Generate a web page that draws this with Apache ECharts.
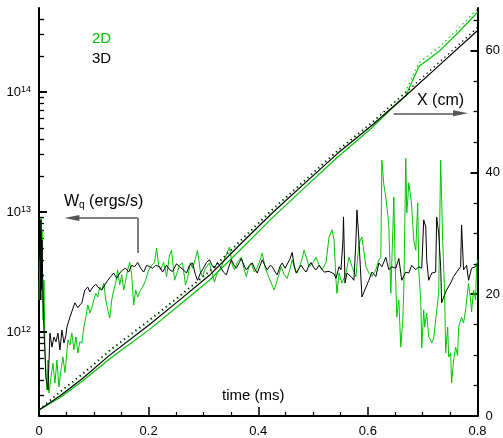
<!DOCTYPE html>
<html><head><meta charset="utf-8">
<script src="https://cdn.jsdelivr.net/npm/echarts@6.0.0/dist/echarts.min.js"></script>
<style>html,body{margin:0;padding:0;background:#fff}#c{width:503px;height:438px}</style>
</head><body><div id="c"></div>
<script>
// ---- W_q (ergs/s), 2D simulation (green) ----
const wqTime2D = [0,0.0018,0.0036,0.0045,0.0055,0.0073,0.0091,0.0109,0.0127,0.0145,0.0164,0.0182,0.0218,0.0255,0.0291,0.0327,0.0364,0.04,0.0436,0.0473,0.0491,0.0527,0.0564,0.06,0.0636,0.0673,0.0709,0.0745,0.0782,0.0818,0.0855,0.0891,0.0927,0.0964,0.1,0.1036,0.1073,0.1109,0.1145,0.1182,0.1218,0.1255,0.1291,0.1327,0.1364,0.14,0.1436,0.1473,0.1509,0.1545,0.1582,0.1618,0.1655,0.1691,0.1727,0.1764,0.18,0.1836,0.1891,0.1945,0.2,0.2055,0.2109,0.2145,0.2182,0.2218,0.2273,0.2327,0.2382,0.2418,0.2473,0.2509,0.2564,0.2618,0.2673,0.2709,0.2764,0.28,0.2855,0.2891,0.2945,0.2982,0.3036,0.3109,0.3164,0.32,0.3255,0.3327,0.34,0.3473,0.3527,0.3564,0.3618,0.3691,0.3745,0.3782,0.3836,0.3873,0.3927,0.3964,0.4018,0.4073,0.4127,0.4164,0.4236,0.4291,0.4345,0.4418,0.4473,0.4527,0.4582,0.4618,0.4673,0.4709,0.4782,0.4836,0.4891,0.4927,0.5,0.5055,0.5109,0.5164,0.5236,0.5291,0.5345,0.5382,0.5418,0.5436,0.5473,0.5527,0.56,0.5655,0.5709,0.5782,0.5836,0.5891,0.5964,0.6018,0.6073,0.6145,0.62,0.6236,0.6255,0.6291,0.6327,0.6364,0.6382,0.6418,0.6455,0.6473,0.6491,0.6527,0.6564,0.66,0.6636,0.6655,0.6691,0.6709,0.6727,0.6745,0.6782,0.68,0.6836,0.6873,0.6909,0.6927,0.6964,0.6982,0.7018,0.7036,0.7073,0.7109,0.7145,0.7164,0.72,0.7236,0.7291,0.7327,0.7364,0.74,0.7418,0.7455,0.7473,0.7509,0.7527,0.7564,0.76,0.7636,0.7655,0.7709,0.7745,0.7782,0.7836,0.7873,0.7891,0.7927,0.7964,0.7982,0.8];
const wq2D = [1.85e12,4.8e12,8.9e12,1.85e12,7.1e12,1.26e12,2.7e12,7.1e11,4.6e11,3.3e11,5.85e11,3.1e11,4.2e11,5.5e11,3.76e11,5.85e11,3.5e11,4.8e11,6.2e11,4.6e11,5.5e11,8.6e11,7.8e11,9.8e11,7.1e11,9.1e11,6.7e11,8.3e11,8.1e11,1.1e12,1.33e12,1.68e12,1.44e12,1.6e12,1.85e12,2.1e12,1.96e12,2.37e12,2.24e12,2.56e12,1.85e12,1.53e12,1.31e12,1.85e12,2.24e12,2.56e12,3.3e12,2.47e12,3.0e12,2.24e12,2.7e12,3.3e12,3.8e12,3.0e12,1.68e12,2.24e12,1.96e12,2.16e12,2.37e12,2.7e12,3.3e12,3.6e12,3.8e12,5.0e12,3.6e12,3.3e12,3.8e12,2.9e12,4.4e12,4.8e12,2.7e12,2.6e12,3.6e12,3.76e12,2.47e12,2.8e12,3.8e12,3.4e12,4.1e12,4.8e12,3.16e12,2.9e12,3.4e12,3.76e12,3.0e12,2.6e12,3.16e12,3.5e12,4.2e12,5.1e12,3.6e12,3.3e12,3.8e12,4.2e12,3.3e12,2.9e12,3.6e12,3.76e12,3.16e12,3.3e12,3.8e12,4.55e12,3.4e12,3.1e12,2.56e12,2.24e12,2.7e12,3.5e12,3.0e12,2.8e12,3.4e12,4.0e12,3.3e12,3.1e12,3.8e12,4.8e12,4.0e12,3.5e12,3.8e12,4.2e12,3.6e12,3.3e12,3.8e12,6.2e12,7.1e12,5.85e12,2.7e12,2.1e12,3.1e12,2.56e12,3.1e12,4.2e12,3.5e12,2.9e12,5.5e12,6.2e12,3.5e12,3.1e12,2.9e12,3.3e12,4.0e12,4.2e12,2.7e13,1.68e13,1.33e13,9.4e12,7.5e12,2.1e12,7.1e12,1.33e13,4.8e12,1.33e12,1.85e12,7.5e11,1.26e12,2.24e12,2.8e13,9.8e12,1.26e13,1.75e13,1.33e13,1.1e13,5.85e12,4.8e12,1.19e13,3.3e12,1.85e12,7.4e11,1.53e12,1.1e12,1.44e12,9.1e11,8.6e11,8.1e11,8.9e11,1.26e12,2.1e12,2.7e13,5.85e12,2.1e12,6.7e11,1.1e12,6.2e11,6.7e11,3.76e11,5.85e11,7.5e11,6.4e11,1.1e12,1.33e12,1.19e12,1.53e12,2.56e12,1.85e12,1.47e12,2.24e12,1.85e12,3.5e12,4.0e12];

// ---- W_q (ergs/s), 3D simulation (black) ----
const wqTime3D = [0,0.0018,0.0027,0.0036,0.0045,0.0055,0.0073,0.0091,0.0127,0.0164,0.02,0.0236,0.0273,0.0309,0.0345,0.0382,0.0418,0.0455,0.0491,0.0509,0.0564,0.06,0.0655,0.0709,0.0745,0.0782,0.0836,0.0891,0.0927,0.0982,0.1036,0.1091,0.1145,0.12,0.1255,0.1309,0.1364,0.1418,0.1473,0.1527,0.1582,0.1636,0.1691,0.1745,0.18,0.1855,0.1909,0.1964,0.2018,0.2073,0.2127,0.22,0.2255,0.2327,0.2382,0.2436,0.2509,0.2564,0.2636,0.2691,0.2745,0.28,0.2855,0.2891,0.2945,0.2982,0.3055,0.3109,0.3164,0.32,0.3255,0.3291,0.3364,0.3418,0.3473,0.3509,0.3564,0.36,0.3655,0.3691,0.3745,0.3782,0.3836,0.3891,0.3945,0.3982,0.4036,0.4073,0.4127,0.4164,0.4218,0.4255,0.4309,0.4345,0.44,0.4436,0.4491,0.4527,0.4582,0.4618,0.4655,0.4691,0.4745,0.4782,0.4836,0.4873,0.4927,0.4964,0.5018,0.5055,0.5109,0.5145,0.52,0.5236,0.5291,0.5327,0.5382,0.5418,0.5473,0.5509,0.5545,0.5555,0.5573,0.5582,0.5618,0.5691,0.5745,0.5782,0.58,0.5836,0.5891,0.5964,0.6018,0.6073,0.6145,0.62,0.6255,0.6327,0.6382,0.6436,0.6509,0.6564,0.6618,0.6691,0.6745,0.68,0.6873,0.6927,0.6982,0.7018,0.7055,0.7073,0.7109,0.7164,0.7236,0.7255,0.7291,0.7327,0.7345,0.7382,0.7436,0.7509,0.7564,0.7618,0.7691,0.7709,0.7745,0.78,0.7836,0.7891,0.7964,0.8];
const wq3D = [4.0e12,7.1e12,1.85e12,8.6e12,2.24e12,5.85e12,1.85e12,1.04e12,4.2e11,3.3e11,9.8e11,7.5e11,9.1e11,8.3e11,9.8e11,7.1e11,1.04e12,8.1e11,9.4e11,1.1e12,1.33e12,1.31e12,1.75e12,1.6e12,1.68e12,1.75e12,2.24e12,2.37e12,2.16e12,2.37e12,2.5e12,2.33e12,2.24e12,2.47e12,2.7e12,2.9e12,3.1e12,2.8e12,3.1e12,3.3e12,3.4e12,3.16e12,3.6e12,3.5e12,3.8e12,3.4e12,3.16e12,3.6e12,3.5e12,3.4e12,3.6e12,3.5e12,3.16e12,3.6e12,3.3e12,3.2e12,3.7e12,3.5e12,3.3e12,3.1e12,3.6e12,3.76e12,3.0e12,2.7e12,3.1e12,3.3e12,3.8e12,4.0e12,3.55e12,3.4e12,3.8e12,3.6e12,3.16e12,3.0e12,3.6e12,4.0e12,3.55e12,3.4e12,3.8e12,4.1e12,3.55e12,3.3e12,3.55e12,3.76e12,3.3e12,3.1e12,3.6e12,4.0e12,3.55e12,3.3e12,3.6e12,3.5e12,3.16e12,3.0e12,3.55e12,3.76e12,3.4e12,3.3e12,4.1e12,4.6e12,3.6e12,3.1e12,3.4e12,3.6e12,3.3e12,3.16e12,3.6e12,3.8e12,3.4e12,3.3e12,3.6e12,3.5e12,3.16e12,3.1e12,3.2e12,3.3e12,3.05e12,2.8e12,3.5e12,3.3e12,5.85e12,9.1e12,8.9e12,2.56e12,3.1e12,2.9e12,2.7e12,5.85e12,1.04e13,5.85e12,1.96e12,2.37e12,2.7e12,3.16e12,2.9e12,3.76e12,3.5e12,4.2e12,3.3e12,3.5e12,3.4e12,4.1e12,2.7e12,3.16e12,3.1e12,3.6e12,3.3e12,3.5e12,3.4e12,8.6e12,7.5e12,4.0e12,2.7e12,3.1e12,3.16e12,9.1e12,6.7e12,3.5e12,1.75e12,1.96e12,2.24e12,2.56e12,2.9e12,3.16e12,3.5e12,7.8e12,3.3e12,3.6e12,2.7e12,3.4e12,3.5e12,3.76e12];

// ---- X (cm), front position ----
const xTime3D = [0,0.038,0.08,0.129,0.2,0.249,0.311,0.365,0.425,0.487,0.547,0.607,0.669,0.729,0.8];
const x3D = [1.0,3.3,6.2,10.0,14.9,18.5,23.1,28.0,33.3,38.4,43.3,47.7,52.6,57.5,63.3];
const x3DDotted = [1.0,4.0,7.0,10.8,15.7,19.2,23.8,28.6,33.9,38.9,43.8,48.2,53.1,58.0,63.8];
const xTime2D = [0,0.038,0.08,0.129,0.2,0.249,0.311,0.365,0.425,0.487,0.547,0.607,0.64,0.669,0.693,0.729,0.764,0.8];
const x2D = [1.0,3.0,5.8,9.4,14.1,17.7,22.3,27.1,32.5,37.7,42.7,47.3,50.2,52.6,57.4,59.8,62.9,66.3];
const x2DDotted = [1.0,3.8,6.8,10.6,15.5,19.0,23.6,28.4,33.7,38.7,43.6,48.0,50.9,53.3,58.0,60.5,63.5,66.9];

// ---- ticks ----
const wqMajorTicks = [1e12,1e13,1e14];
const wqMinorTicks = [3e11,4e11,5e11,6e11,7e11,8e11,9e11,2e12,3e12,4e12,5e12,6e12,7e12,8e12,9e12,2e13,3e13,4e13,5e13,6e13,7e13,8e13,9e13,2e14,3e14,4e14,5e14];
const xMajorTicks = [0,20,40,60];
const xMinorTicks = [5,10,15,25,30,35,45,50,55,65];

const GREEN = '#00c400';
const FONT = '"Liberation Sans", Arial, Helvetica, sans-serif';
const pairs = (t, v) => t.map((x, i) => [x, v[i]]);

const chart = echarts.init(document.getElementById('c'), null, {renderer: 'canvas'});
const logRange = {min: 2e11, max: 5e14};
const xRange = {min: 0, max: 67};
chart.setOption({
  animation: false,
  textStyle: {fontFamily: FONT},
  grid: {left: 39, right: 24, top: 8, bottom: 22},
  legend: {
    orient: 'vertical', left: 82, top: 26, itemWidth: 0, itemHeight: 0, itemGap: 5,
    icon: 'rect', selectedMode: false,
    textStyle: {fontSize: 15, fontFamily: FONT},
    data: [{name: '2D', textStyle: {color: GREEN}}, {name: '3D', textStyle: {color: '#000'}}]
  },
  xAxis: {
    type: 'value', min: 0, max: 0.8, interval: 0.2,
    axisLine: {lineStyle: {color: '#000', width: 2}},
    axisTick: {inside: true, length: 9, lineStyle: {color: '#000', width: 1.5}},
    minorTick: {show: true, splitNumber: 4, length: 4, lineStyle: {color: '#000', width: 1.2}},
    axisLabel: {color: '#000', fontSize: 13, margin: 9, fontFamily: FONT},
    splitLine: {show: false},
    name: 'time (ms)', nameLocation: 'middle', nameGap: -28,
    nameTextStyle: {color: '#000', fontSize: 15, fontFamily: FONT, padding: [0, 10, 0, 0]}
  },
  yAxis: [
    {
      type: 'log', min: logRange.min, max: logRange.max, position: 'left',
      axisLine: {show: true, lineStyle: {color: '#000', width: 2}},
      axisTick: {show: true, inside: true, length: 8, customValues: wqMajorTicks, lineStyle: {color: '#000', width: 2}},
      minorTick: {show: false},
      axisLabel: {
        customValues: wqMajorTicks, margin: 8,
        formatter: v => '{b|10}{s|' + Math.round(Math.log10(v)) + '}',
        rich: {
          b: {fontSize: 13, color: '#000', fontFamily: FONT, lineHeight: 14},
          s: {fontSize: 9, color: '#000', fontFamily: FONT, verticalAlign: 'top', lineHeight: 9}
        }
      },
      splitLine: {show: false}
    },
    {
      type: 'value', min: xRange.min, max: xRange.max, position: 'right',
      axisLine: {show: true, lineStyle: {color: '#000', width: 2}},
      axisTick: {show: true, inside: true, length: 7, customValues: xMajorTicks, lineStyle: {color: '#000', width: 2}},
      minorTick: {show: false},
      axisLabel: {customValues: xMajorTicks, color: '#000', fontSize: 13, margin: 8, fontFamily: FONT},
      splitLine: {show: false}
    },
    {
      type: 'log', min: logRange.min, max: logRange.max, position: 'left',
      axisLine: {show: false},
      axisTick: {show: true, inside: true, length: 5, customValues: wqMinorTicks, lineStyle: {color: '#000', width: 1.3}},
      axisLabel: {show: false},
      splitLine: {show: false}
    },
    {
      type: 'value', min: xRange.min, max: xRange.max, position: 'right',
      axisLine: {show: false},
      axisTick: {show: true, inside: true, length: 4, customValues: xMinorTicks, lineStyle: {color: '#000', width: 1.3}},
      axisLabel: {show: false},
      splitLine: {show: false}
    }
  ],
  graphic: [
    {type: 'text', left: 64, top: 194, silent: true,
     style: {text: '{w|W}{q|q}{r| (ergs/s)}', fill: '#000',
       rich: {w: {fontSize: 16, fontFamily: FONT}, q: {fontSize: 10, fontFamily: FONT, verticalAlign: 'bottom'}, r: {fontSize: 16, fontFamily: FONT}}}},
    {type: 'text', left: 417, top: 93, silent: true,
     style: {text: 'X (cm)', fill: '#000', fontSize: 16, fontFamily: FONT}}
  ],
  series: [
    {name: '2D', type: 'line', yAxisIndex: 0, data: pairs(wqTime2D, wq2D), showSymbol: false, symbol: 'none',
     lineStyle: {color: GREEN, width: 1}, itemStyle: {color: GREEN}, silent: true, z: 2},
    {name: '3D', type: 'line', yAxisIndex: 0, data: pairs(wqTime3D, wq3D), showSymbol: false, symbol: 'none',
     lineStyle: {color: '#000', width: 1}, itemStyle: {color: '#000'}, silent: true, z: 3,
     markLine: {silent: true, animation: false, symbol: ['none', 'none'], label: {show: false},
       lineStyle: {color: '#555', width: 1.5, type: 'solid'},
       data: [
         [{coord: [0.18, 4.55e12]}, {coord: [0.18, 8.9e12]}],
         [{coord: [0.18, 8.9e12]}, {coord: [0.06, 8.9e12], symbol: 'triangle', symbolSize: [6, 15]}]
       ]}},
    {name: '2D', type: 'line', yAxisIndex: 1, data: pairs(xTime2D, x2D), showSymbol: false, symbol: 'none',
     lineStyle: {color: GREEN, width: 1.2}, silent: true, z: 2},
    {name: '3D', type: 'line', yAxisIndex: 1, data: pairs(xTime3D, x3D), showSymbol: false, symbol: 'none',
     lineStyle: {color: '#000', width: 1.2}, silent: true, z: 3,
     markLine: {silent: true, animation: false, symbol: ['none', 'none'], label: {show: false},
       lineStyle: {color: '#555', width: 1.5, type: 'solid'},
       data: [
         [{coord: [0.647, 49.7]}, {coord: [0.769, 49.7], symbol: 'triangle', symbolSize: [6, 15]}]
       ]}},
    {name: '2D', type: 'line', yAxisIndex: 1, data: pairs(xTime2D, x2DDotted), showSymbol: false, symbol: 'none',
     lineStyle: {color: GREEN, width: 1.3, type: [1.3, 3.5]}, silent: true, z: 2},
    {name: '3D', type: 'line', yAxisIndex: 1, data: pairs(xTime3D, x3DDotted), showSymbol: false, symbol: 'none',
     lineStyle: {color: '#000', width: 1.3, type: [1.3, 3.5]}, silent: true, z: 3}
  ]
});
</script></body></html>
